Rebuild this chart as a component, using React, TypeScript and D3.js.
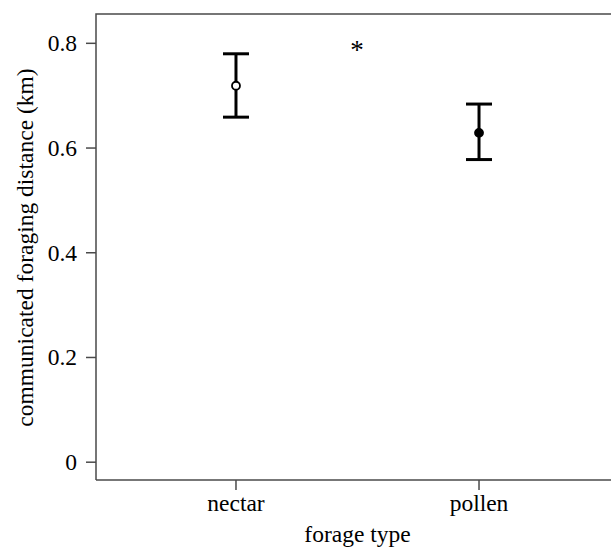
import React from 'react';
import * as d3 from 'd3';

// forage type categories and their means / error bounds (km)
const categories = ['nectar', 'pollen'];
const means = [0.719, 0.629];
const upper = [0.78, 0.684];
const lower = [0.659, 0.578];
const filled = [false, true];
const yTicks = [0, 0.2, 0.4, 0.6, 0.8];

const W = 611;
const H = 549;
const margin = { left: 96, top: 14, right: -8, bottom: 69 };

const App = () => {
  const x = d3.scalePoint()
    .domain(categories)
    .range([margin.left, W - margin.right])
    .padding(0.576);
  const y = d3.scaleLinear()
    .domain([-0.034, 0.856])
    .range([H - margin.bottom, margin.top]);

  const font = '"Liberation Serif", "Times New Roman", serif';
  const axisColor = '#4a4a4a';
  const fs = 23.5;
  const x0 = margin.left;
  const x1 = W - margin.right;
  const yb = H - margin.bottom;

  return (
    <svg width={W} height={H} style={{ position: 'absolute', left: 0, top: 0 }}
      fontFamily={font}>
      <rect width={W} height={H} fill="#fff" />
      {/* frame */}
      <path d={`M${x0},${yb}V${margin.top}H${x1}`} fill="none" stroke={axisColor} strokeWidth={1.5} />
      <line x1={x0} x2={x1} y1={yb} y2={yb} stroke={axisColor} strokeWidth={1.5} />

      {yTicks.map(t => (
        <g key={t}>
          <line x1={x0 - 10} x2={x0} y1={y(t)} y2={y(t)} stroke={axisColor} strokeWidth={1.5} />
          <text x={x0 - 19} y={y(t)} dy="0.34em" textAnchor="end" fontSize={fs} fill="#000">
            {t === 0 ? '0' : t.toFixed(1)}
          </text>
        </g>
      ))}

      {categories.map(c => (
        <g key={c}>
          <line x1={x(c)} x2={x(c)} y1={yb} y2={yb + 10} stroke={axisColor} strokeWidth={1.5} />
          <text x={x(c)} y={yb + 31} textAnchor="middle" fontSize={fs} fill="#000">{c}</text>
        </g>
      ))}

      <text x={(x0 + 619) / 2} y={yb + 62} textAnchor="middle" fontSize={fs} fill="#000">forage type</text>
      <text transform={`translate(33,${(margin.top + yb) / 2 + 0.5}) rotate(-90)`} textAnchor="middle"
        fontSize={fs} fill="#000">communicated foraging distance (km)</text>

      {categories.map((c, i) => {
        const cx = x(c) as number;
        return (
          <g key={c} stroke="#000" strokeWidth={3}>
            <line x1={cx} x2={cx} y1={y(upper[i])} y2={y(lower[i])} />
            <line x1={cx - 13} x2={cx + 13} y1={y(upper[i])} y2={y(upper[i])} />
            <line x1={cx - 13} x2={cx + 13} y1={y(lower[i])} y2={y(lower[i])} />
            <circle cx={cx} cy={y(means[i])} r={4} fill={filled[i] ? '#000' : '#fff'} strokeWidth={1.8} />
          </g>
        );
      })}

      <text x={357} y={y(0.8) + 16} textAnchor="middle" fontSize={27} fill="#000">*</text>
    </svg>
  );
};

export default App;
